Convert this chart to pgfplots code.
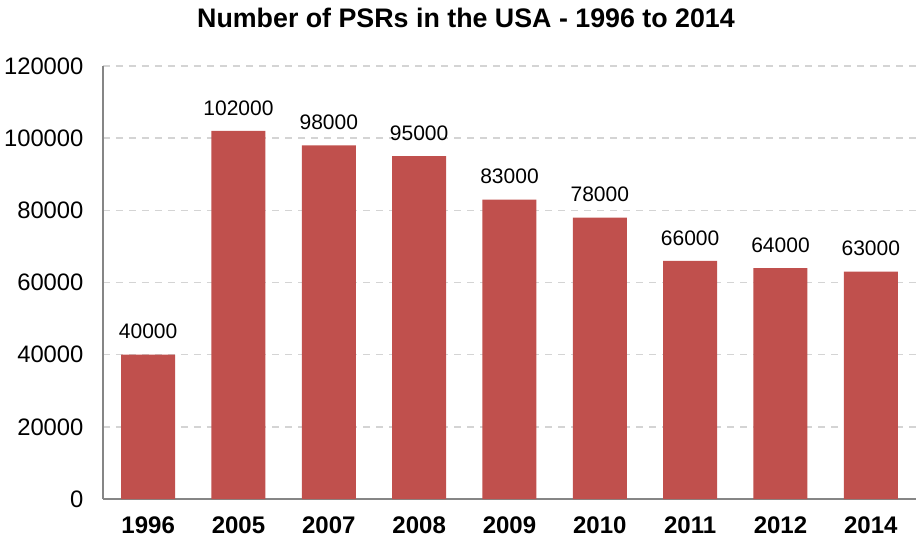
\documentclass[border=0pt]{standalone}
\usepackage{pgfplots}
\pgfplotsset{compat=1.18}
\usepackage{fontspec}
\setmainfont{Liberation Sans}
\definecolor{barred}{HTML}{C0504D}
\definecolor{gridgray}{HTML}{D4D4D4}
\definecolor{axisgray}{HTML}{868686}
\begin{document}
\begin{tikzpicture}
\useasboundingbox (-103pt,-42pt) rectangle (813pt,499pt);
\begin{axis}[
  at={(0pt,0pt)}, anchor=south west,
  scale only axis,
  width=813pt, height=433pt,
  xmin=-0.5, xmax=8.5,
  ymin=0, ymax=120000,
  ytick={0,20000,40000,60000,80000,100000,120000},
  xtick={0,...,8},
  xticklabels={1996,2005,2007,2008,2009,2010,2011,2012,2014},
  scaled y ticks=false,
  /pgf/number format/.cd, fixed, precision=0, 1000 sep={}, assume math mode=true,
  /pgfplots/.cd,
  axis x line*=bottom, axis y line*=left,
  axis line style={axisgray, line width=1.2pt},
  x axis line style={-}, y axis line style={-},
  tick style={draw=none},
  ymajorgrids,
  grid style={gridgray, line width=1.6pt, dash pattern=on 7pt off 6pt},
  yticklabel style={font=\fontsize{23.8}{26}\selectfont, xshift=-16pt},
  xticklabel style={font=\fontsize{24}{26}\selectfont\bfseries, yshift=-10pt},
  ybar, bar width=54pt,
  nodes near coords,
  every node near coord/.append style={font=\fontsize{21}{24}\selectfont, yshift=12pt},
]
\addplot[fill=barred, draw=none] coordinates {
(0,40000) (1,102000) (2,98000) (3,95000) (4,83000) (5,78000) (6,66000) (7,64000) (8,63000)};
\end{axis}
\node at (363pt,481pt) {\fontsize{26.8}{30}\selectfont\bfseries Number of PSRs in the USA - 1996 to 2014};
\end{tikzpicture}
\end{document}
